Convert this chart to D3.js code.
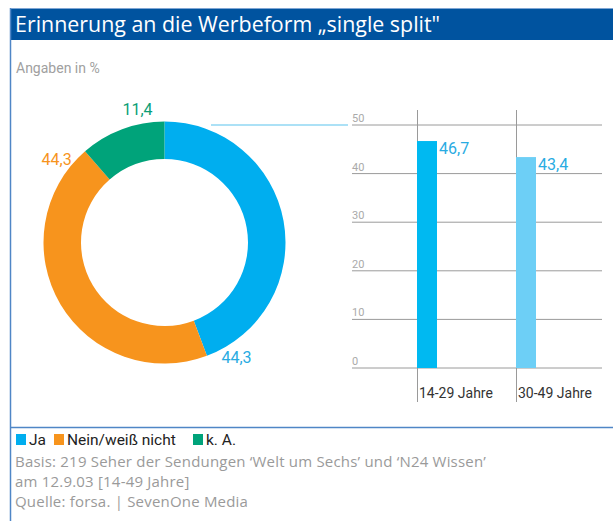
<!DOCTYPE html>
<html>
<head>
<meta charset="utf-8">
<script src="https://cdn.jsdelivr.net/npm/d3@7"></script>
<style>
  body { margin: 0; background: #fff; }
  svg text { font-family: Roboto, "Open Sans", sans-serif; }
  svg text.wide { font-family: "Open Sans", Roboto, sans-serif; }
</style>
</head>
<body>
<svg id="chart" width="613" height="521"></svg>
<script>
// donut data
var donutLabels = ["Ja", "Nein/weiß nicht", "k. A."];
var donutValues = [44.3, 44.3, 11.4];
var donutColors = ["#00aeef", "#f7941d", "#00a37a"];
var donutTextColors = ["#29abe2", "#f7941d", "#0a9e76"];

// bar data
var barCategories = ["14-29 Jahre", "30-49 Jahre"];
var barValues = [46.7, 43.4];
var barColors = ["#00b9f1", "#6dcff6"];
var yTicks = [0, 10, 20, 30, 40, 50];

var notes = [
  "Basis: 219 Seher der Sendungen \u2018Welt um Sechs\u2019 und \u2018N24 Wissen\u2019",
  "am 12.9.03 [14-49 Jahre]",
  "Quelle: forsa. | SevenOne Media"
];

var fmt = function(v) { return d3.format(".1f")(v).replace(".", ","); };

var svg = d3.select("#chart");

// frame + header
svg.append("rect").attr("x", 10).attr("y", 8).attr("width", 603).attr("height", 32).attr("fill", "#00539f");
svg.append("line").attr("x1", 10).attr("x2", 613).attr("y1", 8.5).attr("y2", 8.5).attr("stroke", "#7fa6d4").attr("stroke-width", 1);
svg.append("line").attr("x1", 10.5).attr("x2", 10.5).attr("y1", 8).attr("y2", 521).attr("stroke", "#4f86c6").attr("stroke-width", 1.5);
svg.append("line").attr("x1", 10).attr("x2", 613).attr("y1", 427.5).attr("y2", 427.5).attr("stroke", "#4f86c6").attr("stroke-width", 1.5);

svg.append("text").attr("class", "wide").attr("x", 15).attr("y", 32)
  .attr("fill", "#fff").style("font-size", "21.4px")
  .text("Erinnerung an die Werbeform \u201Esingle split\"");

svg.append("text").attr("x", 16).attr("y", 73)
  .attr("fill", "#a0a0a0").style("font-size", "14px")
  .text("Angaben in %");

// donut
var cx = 164.5, cy = 242.5, rOuter = 121, rInner = 83.5;
var pie = d3.pie().sort(null).value(function(d) { return d; });
var arcs = pie(donutValues);
var arc = d3.arc().innerRadius(rInner).outerRadius(rOuter);

var g = svg.append("g").attr("transform", "translate(" + cx + "," + cy + ")");
g.selectAll("path.slice")
  .data(arcs)
  .enter().append("path")
  .attr("class", "slice")
  .attr("d", arc)
  .attr("fill", function(d, i) { return donutColors[i]; });

// labels sit near the end of each slice, just outside the ring
g.selectAll("text.dl")
  .data(arcs)
  .enter().append("text")
  .attr("class", "dl")
  .attr("x", function(d) { return (rOuter + 15) * Math.sin(d.endAngle - 0.2); })
  .attr("y", function(d) { return -(rOuter + 15) * Math.cos(d.endAngle - 0.2); })
  .attr("text-anchor", "middle")
  .attr("dominant-baseline", "central")
  .attr("fill", function(d, i) { return donutTextColors[i]; })
  .style("font-size", "16px")
  .text(function(d) { return fmt(d.value); });

// bars
var y = d3.scaleLinear().domain([0, 50]).range([368, 125]);
var x = d3.scaleBand().domain(barCategories).range([417, 615]).padding(0);
var barW = 20;

// connector
svg.append("line")
  .attr("x1", 211).attr("x2", 348)
  .attr("y1", y(50)).attr("y2", y(50))
  .attr("stroke", "#5bc3ee").attr("stroke-width", 1.2);

var grid = svg.append("g");
grid.selectAll("line")
  .data(yTicks)
  .enter().append("line")
  .attr("x1", 352).attr("x2", 602)
  .attr("y1", function(d) { return y(d); })
  .attr("y2", function(d) { return y(d); })
  .attr("stroke", "#9a9a9a").attr("stroke-width", 1);
grid.selectAll("text")
  .data(yTicks)
  .enter().append("text")
  .attr("x", 352)
  .attr("y", function(d) { return y(d) - 3; })
  .attr("fill", "#aaa")
  .style("font-size", "11px")
  .text(function(d) { return d; });

svg.selectAll("line.vsep")
  .data(barCategories)
  .enter().append("line")
  .attr("class", "vsep")
  .attr("x1", function(d) { return x(d) + 0.5; })
  .attr("x2", function(d) { return x(d) + 0.5; })
  .attr("y1", 110).attr("y2", 402)
  .attr("stroke", "#9a9a9a").attr("stroke-width", 1);

svg.selectAll("rect.bar")
  .data(barValues)
  .enter().append("rect")
  .attr("class", "bar")
  .attr("x", function(d, i) { return x(barCategories[i]); })
  .attr("y", function(d) { return y(d); })
  .attr("width", barW)
  .attr("height", function(d) { return y(0) - y(d); })
  .attr("fill", function(d, i) { return barColors[i]; });

svg.selectAll("text.bv")
  .data(barValues)
  .enter().append("text")
  .attr("class", "bv")
  .attr("x", function(d, i) { return x(barCategories[i]) + barW + 2; })
  .attr("y", function(d) { return y(d) + 13; })
  .attr("fill", "#29abe2")
  .style("font-size", "16px")
  .text(function(d) { return fmt(d); });

svg.selectAll("text.cat")
  .data(barCategories)
  .enter().append("text")
  .attr("class", "cat")
  .attr("x", function(d) { return x(d) + 2; })
  .attr("y", 398)
  .attr("fill", "#333")
  .style("font-size", "14px")
  .text(function(d) { return d; });

// legend
var legX = [16, 54, 193];
var leg = svg.selectAll("g.leg")
  .data(donutLabels)
  .enter().append("g")
  .attr("class", "leg")
  .attr("transform", function(d, i) { return "translate(" + legX[i] + ",434)"; });
leg.append("rect").attr("width", 10).attr("height", 11)
  .attr("fill", function(d, i) { return donutColors[i]; });
leg.append("text").attr("x", 13).attr("y", 11)
  .attr("fill", "#222").style("font-size", "15.5px")
  .text(function(d) { return d; });

// notes
svg.selectAll("text.note")
  .data(notes)
  .enter().append("text")
  .attr("class", "note wide")
  .attr("x", 15)
  .attr("y", function(d, i) { return 467 + i * 20; })
  .attr("fill", "#9a9a9a")
  .style("font-size", "15px")
  .style("letter-spacing", "0.2px")
  .text(function(d) { return d; });
</script>
</body>
</html>
